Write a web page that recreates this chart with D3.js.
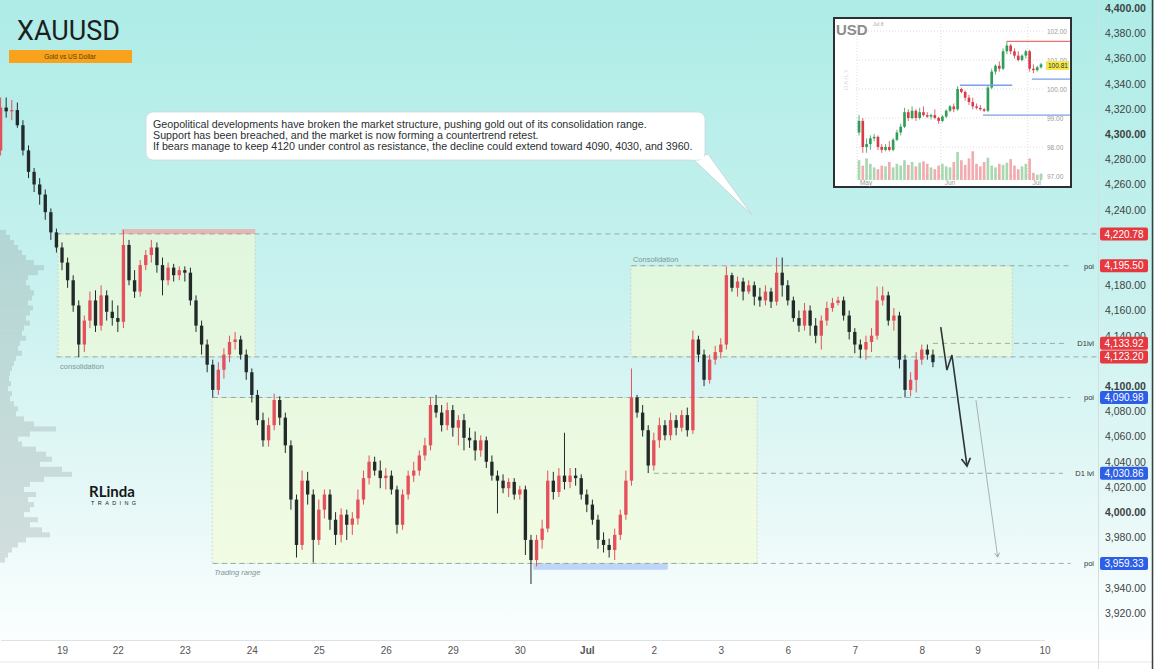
<!DOCTYPE html>
<html>
<head>
<meta charset="utf-8">
<script src="https://cdn.jsdelivr.net/npm/d3@7"></script>
<style>
  html, body { margin: 0; padding: 0; background: #fff; overflow: hidden; }
  svg { display: block; font-family: "Liberation Sans", Arial, sans-serif; }
</style>
</head>
<body>
<div id="chart"></div>
<script>
var width = 1154;
var height = 669;
var plotRight = 1098;
var plotBottom = 640;

// XAUUSD candles, [open, high, low, close]
var candles = [
  [4287,4329,4283,4321],[4321,4329,4313,4318],[4318,4327,4311,4319],[4319,4325,4305,4307],
  [4307,4311,4283,4287],[4287,4291,4265,4270],[4270,4273,4254,4260],[4260,4265,4244,4252],
  [4252,4256,4232,4238],[4238,4241,4216,4222],[4222,4225,4206,4210],[4210,4214,4192,4198],
  [4198,4202,4178,4184],[4184,4188,4159,4164],[4164,4168,4123,4133],[4133,4156,4127,4152],
  [4152,4175,4146,4168],[4168,4176,4143,4148],[4148,4180,4144,4172],[4172,4176,4152,4159],
  [4159,4168,4148,4154],[4154,4164,4143,4151],[4151,4224,4146,4212],[4212,4216,4180,4184],
  [4184,4192,4170,4175],[4175,4200,4171,4196],[4196,4208,4192,4204],[4204,4216,4198,4210],
  [4210,4214,4190,4196],[4196,4202,4172,4184],[4184,4198,4180,4194],[4194,4197,4183,4188],
  [4188,4195,4184,4192],[4192,4195,4183,4190],[4190,4194,4164,4168],[4168,4172,4143,4148],
  [4148,4152,4125,4133],[4133,4137,4111,4117],[4117,4121,4091,4097],[4097,4119,4093,4113],
  [4113,4130,4106,4125],[4125,4140,4119,4135],[4135,4143,4129,4137],[4137,4140,4121,4125],
  [4125,4129,4105,4111],[4111,4114,4087,4093],[4093,4097,4069,4073],[4073,4079,4052,4057],
  [4057,4075,4052,4069],[4069,4094,4065,4089],[4089,4092,4069,4075],[4075,4079,4047,4053],
  [4053,4057,4002,4010],[4010,4014,3964,3974],[3974,4033,3970,4025],[4025,4032,4006,4014],
  [4014,4018,3960,3978],[3978,4010,3974,4002],[4002,4018,3995,4014],[4014,4018,3986,3994],
  [3994,4000,3974,3982],[3982,4003,3976,3998],[3998,4002,3978,3990],[3990,4000,3982,3995],
  [3995,4018,3990,4010],[4010,4033,4006,4027],[4027,4045,4022,4040],[4040,4044,4029,4033],
  [4033,4041,4019,4027],[4027,4035,4018,4029],[4029,4033,4014,4018],[4018,4021,3983,3990],
  [3990,4018,3986,4014],[4014,4033,4010,4029],[4029,4040,4024,4033],[4033,4049,4029,4045],
  [4045,4059,4041,4053],[4053,4091,4049,4085],[4085,4093,4075,4079],[4079,4085,4064,4069],
  [4069,4087,4065,4081],[4081,4085,4060,4067],[4067,4077,4053,4073],[4073,4078,4049,4059],
  [4059,4067,4051,4057],[4057,4064,4041,4049],[4049,4061,4044,4057],[4057,4060,4035,4040],
  [4040,4045,4025,4029],[4029,4033,3999,4025],[4025,4030,4015,4019],[4019,4027,4012,4024],
  [4024,4027,4010,4014],[4014,4021,4010,4018],[4018,4021,3966,3978],[3978,3982,3943,3962],
  [3962,3982,3957,3978],[3978,3994,3971,3987],[3987,4033,3984,4025],[4025,4032,4010,4016],
  [4016,4035,4012,4029],[4029,4063,4018,4024],[4024,4035,4019,4029],[4029,4035,4021,4027],
  [4027,4030,4010,4014],[4014,4018,4000,4006],[4006,4010,3990,3994],[3994,3998,3971,3978],
  [3978,3984,3968,3974],[3974,3979,3964,3970],[3970,3987,3962,3982],[3982,4002,3978,3998],
  [3998,4033,3994,4025],[4025,4114,4021,4091],[4091,4093,4075,4079],[4079,4085,4060,4065],
  [4065,4069,4031,4037],[4037,4063,4033,4057],[4057,4075,4051,4069],[4069,4073,4057,4061],
  [4061,4079,4057,4073],[4073,4077,4061,4067],[4067,4081,4064,4077],[4077,4083,4060,4065],
  [4065,4144,4062,4137],[4137,4140,4119,4125],[4125,4129,4100,4105],[4105,4125,4102,4121],
  [4121,4132,4117,4127],[4127,4138,4122,4133],[4133,4195,4129,4188],[4188,4190,4175,4178],
  [4178,4187,4171,4183],[4183,4186,4168,4175],[4175,4184,4173,4180],[4180,4183,4164,4171],
  [4171,4178,4163,4168],[4168,4180,4164,4175],[4175,4178,4162,4167],[4167,4202,4164,4190],
  [4190,4202,4171,4180],[4180,4184,4164,4168],[4168,4171,4151,4154],[4154,4160,4143,4148],
  [4148,4166,4144,4160],[4160,4164,4140,4148],[4148,4154,4134,4140],[4140,4156,4129,4152],
  [4152,4167,4148,4162],[4162,4170,4159,4166],[4166,4171,4164,4168],[4168,4171,4152,4156],
  [4156,4160,4137,4143],[4143,4146,4126,4133],[4133,4137,4122,4129],[4129,4140,4121,4135],
  [4135,4146,4127,4140],[4140,4179,4137,4168],[4168,4179,4164,4172],[4172,4175,4148,4152],
  [4152,4162,4144,4156],[4156,4159,4114,4121],[4121,4125,4091,4097],[4097,4111,4092,4105],
  [4105,4127,4095,4121],[4121,4133,4117,4129],[4129,4133,4121,4125],[4125,4129,4115,4119]
];

var dayTicks = [
  {i: 11, label: "19"}, {i: 21, label: "22"}, {i: 33, label: "23"}, {i: 45, label: "24"},
  {i: 57, label: "25"}, {i: 69, label: "26"}, {i: 81, label: "29"}, {i: 93, label: "30"},
  {i: 105, label: "Jul"}, {i: 117, label: "2"}, {i: 129, label: "3"}, {i: 141, label: "6"},
  {i: 153, label: "7"}, {i: 165, label: "8"}, {i: 175, label: "9"}, {i: 187, label: "10"}
];

var priceTicks = [3920, 3940, 3960, 3980, 4000, 4020, 4040, 4060, 4080, 4100, 4120, 4140,
  4160, 4180, 4200, 4220, 4240, 4260, 4280, 4300, 4320, 4340, 4360, 4380, 4400];

// horizontal levels: price, first candle index, tag, badge colour
var levels = [
  {p: 4220.78, from: 10, tag: "", kind: "up"},
  {p: 4195.50, from: 113, tag: "poi", kind: "up"},
  {p: 4133.92, from: 167, tag: "D1lvl", kind: "up"},
  {p: 4123.20, from: 10, tag: "", kind: "up"},
  {p: 4090.98, from: 38, tag: "poi", kind: "down"},
  {p: 4030.86, from: 117, tag: "D1 lvl", kind: "down"},
  {p: 3959.33, from: 38, tag: "poi", kind: "down"}
];

var zones = [
  {i0: 10.3, i1: 45.6, top: 4220.78, bottom: 4123.20, label: "consolidation", pos: "below", italic: false},
  {i0: 37.9, i1: 135.5, top: 4090.98, bottom: 3959.33, label: "Trading range", pos: "below", italic: true},
  {i0: 112.9, i1: 181.2, top: 4195.50, bottom: 4123.20, label: "Consolidation", pos: "above", italic: false}
];

var bands = [
  {i0: 21.7, i1: 45.6, top: 4224.6, bottom: 4220.78, color: "#f2a0a0"},
  {i0: 95.4, i1: 119.5, top: 3959.33, bottom: 3954.3, color: "#aac4f5"}
];

// projected path after the last candle
var arrowMain = [{i: 168.4, p: 4146.8}, {i: 169.5, p: 4112.7}, {i: 170.4, p: 4124.6}, {i: 173.1, p: 4036.5}];
var arrowAlt = [{i: 174.7, p: 4088.9}, {i: 178.6, p: 3964.3}];

// volume profile, one value per 4-dollar bucket going down from 4224
var profileTop = 4224;
var profileStep = 4;
var profileVol = [6,10,14,18,22,26,34,44,38,28,26,30,34,32,28,33,30,26,30,24,22,26,20,18,22,16,14,12,
  10,9,11,8,12,10,14,18,16,24,34,56,30,18,22,36,46,52,40,62,72,44,30,24,36,28,34,30,24,38,30,42,50,26,18,12,8,5];

var noteLines = [
  "Geopolitical developments have broken the market structure, pushing gold out of its consolidation range.",
  "Support has been breached, and the market is now forming a countertrend retest.",
  "If bears manage to keep 4120 under control as resistance, the decline could extend toward 4090, 4030, and 3960."
];

// inset: dollar index daily candles [open, high, low, close] and volume
var insetCandles = [
  [98.5,99.1,98.4,98.9],[98.9,99.0,97.8,98.0],[98.0,98.3,97.8,98.1],[98.1,98.4,97.9,98.3],
  [98.3,98.45,98.2,98.35],[98.35,98.4,97.9,98.0],[98.0,98.1,97.8,97.9],[97.9,98.1,97.85,98.0],
  [98.0,98.2,97.85,97.9],[97.9,98.3,97.85,98.25],[98.25,98.6,98.2,98.5],[98.5,98.8,98.4,98.7],
  [98.7,99.35,98.65,99.2],[99.2,99.3,98.9,99.0],[99.0,99.4,98.95,99.25],[99.25,99.3,98.9,99.0],
  [99.0,99.35,98.95,99.2],[99.2,99.4,99.05,99.1],[99.1,99.2,99.0,99.05],[99.05,99.15,98.95,99.1],
  [99.1,99.3,98.95,99.0],[99.0,99.05,98.8,98.9],[98.9,99.1,98.85,99.05],[99.05,99.3,99.0,99.25],
  [99.25,99.45,99.2,99.4],[99.4,99.5,99.2,99.3],[99.3,100.1,99.25,100.0],[100.0,100.05,99.85,99.9],
  [99.9,99.95,99.6,99.7],[99.7,99.8,99.45,99.55],[99.55,99.7,99.3,99.4],[99.4,99.5,99.3,99.35],
  [99.35,99.45,99.25,99.3],[99.3,99.35,99.2,99.25],[99.25,100.1,99.2,100.05],[100.05,100.7,100.0,100.6],
  [100.6,100.85,100.5,100.8],[100.8,100.95,100.6,100.7],[100.7,101.4,100.65,101.3],[101.3,101.65,101.2,101.5],
  [101.5,101.55,101.2,101.3],[101.3,101.4,101.05,101.15],[101.15,101.3,100.95,101.0],[101.0,101.2,100.95,101.15],
  [101.15,101.35,101.05,101.3],[101.3,101.35,100.6,100.7],[100.7,100.85,100.55,100.65],[100.65,100.8,100.6,100.75],
  [100.75,100.9,100.7,100.85]
];
var insetVolume = [55,40,60,45,35,30,40,38,50,35,45,40,55,42,50,38,48,52,45,35,30,40,45,38,35,
  50,78,55,42,60,80,45,38,50,62,40,35,45,42,48,58,40,30,38,45,60,20,15,18];
var insetTicks = [97, 98, 99, 100, 101, 102];
var insetMonths = [{i: -0.5, label: "May"}, {i: 21.6, label: "Jun"}, {i: 44.5, label: "Jul"}];
var insetLines = [
  {p: 101.64, from: 39, to: 56, color: "#f07070"},
  {p: 100.34, from: 45.6, to: 56, color: "#7aa0e8"},
  {p: 100.13, from: 26.6, to: 40.4, color: "#7aa0e8"},
  {p: 99.10, from: 32.7, to: 56, color: "#7aa0e8"}
];
var insetLast = 100.81;

var bullColor = "#e4505b";
var bearColor = "#232a2a";

var svg = d3.select("#chart")
  .append("svg")
  .attr("width", width)
  .attr("height", height);

var defs = svg.append("defs");
var bg = defs.append("linearGradient")
  .attr("id", "bg")
  .attr("x1", 0).attr("y1", 0).attr("x2", 0).attr("y2", 1);
bg.append("stop").attr("offset", "0%").attr("stop-color", "#aeece7");
bg.append("stop").attr("offset", "40%").attr("stop-color", "#c6f1ee");
bg.append("stop").attr("offset", "75%").attr("stop-color", "#e6f8f7");
bg.append("stop").attr("offset", "95%").attr("stop-color", "#fbfefe");

defs.append("clipPath").attr("id", "plotClip")
  .append("rect").attr("x", 0).attr("y", 0).attr("width", plotRight).attr("height", plotBottom);

defs.append("marker")
  .attr("id", "headDark")
  .attr("viewBox", "0 0 10 10")
  .attr("refX", 8).attr("refY", 5)
  .attr("markerWidth", 7).attr("markerHeight", 7)
  .attr("orient", "auto")
  .append("path")
  .attr("d", "M1,1 L8,5 L1,9")
  .attr("fill", "none")
  .attr("stroke", "#2e3535")
  .attr("stroke-width", 1.5);

defs.append("marker")
  .attr("id", "headLight")
  .attr("viewBox", "0 0 10 10")
  .attr("refX", 8).attr("refY", 5)
  .attr("markerWidth", 6).attr("markerHeight", 6)
  .attr("orient", "auto")
  .append("path")
  .attr("d", "M1,1 L8,5 L1,9")
  .attr("fill", "none")
  .attr("stroke", "#9aa5a5")
  .attr("stroke-width", 1.5);

svg.append("rect")
  .attr("width", width).attr("height", height)
  .attr("fill", "url(#bg)");

var x = d3.scaleLinear().domain([0, 187]).range([0.6, 1044.6]);
var y = d3.scaleLinear().domain([3920, 4400]).range([613, 8]);
var step = x(1) - x(0);

var plot = svg.append("g").attr("clip-path", "url(#plotClip)");

// volume profile on the left edge
var profW = d3.scaleLinear().domain([0, 80]).range([0, 80]);
plot.append("g")
  .selectAll("rect")
  .data(profileVol)
  .join("rect")
  .attr("x", 0)
  .attr("y", (d, k) => y(profileTop - profileStep * k))
  .attr("width", d => profW(d))
  .attr("height", (d, k) => y(profileTop - profileStep * (k + 1)) - y(profileTop - profileStep * k))
  .attr("fill", "#8f9c9c")
  .attr("fill-opacity", 0.3);

// zones
plot.append("g")
  .selectAll("rect")
  .data(zones)
  .join("rect")
  .attr("x", d => x(d.i0))
  .attr("y", d => y(d.top))
  .attr("width", d => x(d.i1) - x(d.i0))
  .attr("height", d => y(d.bottom) - y(d.top))
  .attr("fill", "#f4fbd4")
  .attr("fill-opacity", 0.6)
  .attr("stroke", "#c7d3c2")
  .attr("stroke-width", 0.8)
  .attr("stroke-dasharray", "2,2");

plot.append("g")
  .selectAll("text")
  .data(zones)
  .join("text")
  .attr("x", d => x(d.i0) + 2)
  .attr("y", d => d.pos === "below" ? y(d.bottom) + 12 : y(d.top) - 4)
  .text(d => d.label)
  .attr("fill", "#7f9696")
  .style("font-size", "7.5px")
  .style("font-style", d => d.italic ? "italic" : "normal");

plot.append("g")
  .selectAll("rect")
  .data(bands)
  .join("rect")
  .attr("x", d => x(d.i0))
  .attr("y", d => y(d.top))
  .attr("width", d => x(d.i1) - x(d.i0))
  .attr("height", d => y(d.bottom) - y(d.top))
  .attr("fill", d => d.color)
  .attr("fill-opacity", 0.7);

// dashed levels
plot.append("g")
  .selectAll("line")
  .data(levels)
  .join("line")
  .attr("x1", d => x(d.from))
  .attr("x2", d => d.tag ? plotRight - 20 - d.tag.length * 2.5 : plotRight)
  .attr("y1", d => y(d.p))
  .attr("y2", d => y(d.p))
  .attr("stroke", "#889898")
  .attr("stroke-width", 1)
  .attr("stroke-dasharray", "5,4")
  .attr("stroke-opacity", 0.8);

svg.append("g")
  .selectAll("text")
  .data(levels.filter(d => d.tag))
  .join("text")
  .attr("x", plotRight - 4)
  .attr("y", d => y(d.p) + 3)
  .attr("text-anchor", "end")
  .text(d => d.tag)
  .attr("fill", "#333")
  .style("font-size", "7.5px");

// candles
var bars = plot.append("g")
  .selectAll("g")
  .data(candles)
  .join("g");

bars.append("line")
  .attr("x1", (d, i) => x(i))
  .attr("x2", (d, i) => x(i))
  .attr("y1", d => y(d[1]))
  .attr("y2", d => y(d[2]))
  .attr("stroke", d => d[3] >= d[0] ? bullColor : bearColor)
  .attr("stroke-width", 1);

bars.append("rect")
  .attr("x", (d, i) => x(i) - step * 0.3)
  .attr("width", step * 0.6)
  .attr("y", d => y(Math.max(d[0], d[3])))
  .attr("height", d => Math.max(1, Math.abs(y(d[0]) - y(d[3]))))
  .attr("fill", d => d[3] >= d[0] ? bullColor : bearColor);

// projection arrows
var pathGen = d3.line().x(d => x(d.i)).y(d => y(d.p));
plot.append("path")
  .attr("d", pathGen(arrowMain))
  .attr("fill", "none")
  .attr("stroke", "#2e3535")
  .attr("stroke-width", 1.6)
  .attr("marker-end", "url(#headDark)");
plot.append("path")
  .attr("d", pathGen(arrowAlt))
  .attr("fill", "none")
  .attr("stroke", "#a8b2b2")
  .attr("stroke-width", 1)
  .attr("marker-end", "url(#headLight)");

// time axis
svg.append("rect")
  .attr("x", 0).attr("y", plotBottom)
  .attr("width", width).attr("height", height - plotBottom)
  .attr("fill", "#ffffff");

var xAxis = svg.append("g")
  .attr("transform", "translate(0," + plotBottom + ")")
  .call(d3.axisBottom(x)
    .tickValues(dayTicks.map(d => d.i))
    .tickFormat((d, k) => dayTicks[k].label)
    .tickSize(0)
    .tickPadding(7));
xAxis.select(".domain").attr("stroke", "#dde3e3");
xAxis.selectAll("text")
  .attr("fill", "#555")
  .style("font-size", "10px")
  .style("font-family", "Liberation Sans, Arial, sans-serif")
  .style("font-weight", (d, k) => dayTicks[k].label === "Jul" ? "bold" : "normal");

svg.append("line")
  .attr("x1", 0).attr("x2", width)
  .attr("y1", 662).attr("y2", 662)
  .attr("stroke", "#e4eaea");

// price axis
svg.append("line")
  .attr("x1", plotRight + 0.5).attr("x2", plotRight + 0.5)
  .attr("y1", 0).attr("y2", height)
  .attr("stroke", "#d6dede");
svg.append("line")
  .attr("x1", width - 1.5).attr("x2", width - 1.5)
  .attr("y1", 0).attr("y2", height)
  .attr("stroke", "#3a3f40")
  .attr("stroke-width", 1.5);

// ticks sitting right under a level badge are covered by it, so leave them out
var shownTicks = priceTicks.filter(t => levels.every(l => Math.abs(y(t) - y(l.p)) > 6));
var yAxis = svg.append("g")
  .attr("transform", "translate(" + (plotRight + 3) + ",0)")
  .call(d3.axisRight(y)
    .tickValues(shownTicks)
    .tickFormat(d3.format(",.2f"))
    .tickSize(0)
    .tickPadding(4));
yAxis.select(".domain").remove();
yAxis.selectAll("text")
  .attr("fill", "#3d4343")
  .style("font-size", "10.5px")
  .style("font-family", "Liberation Sans, Arial, sans-serif")
  .style("font-weight", d => d % 100 === 0 ? "bold" : "normal");

// level badges
var badges = svg.append("g")
  .selectAll("g")
  .data(levels)
  .join("g")
  .attr("transform", d => "translate(" + (plotRight + 2) + "," + y(d.p) + ")");
badges.append("rect")
  .attr("x", 0).attr("y", -6.5)
  .attr("width", 48).attr("height", 13)
  .attr("rx", 2)
  .attr("fill", d => d.kind === "up" ? "#e5393f" : "#2d5fe6");
badges.append("text")
  .attr("x", 24).attr("y", 3.6)
  .attr("text-anchor", "middle")
  .text(d => d3.format(",.2f")(d.p))
  .attr("fill", "#fff")
  .style("font-size", "10px");

// title block
svg.append("text")
  .attr("x", 17).attr("y", 40)
  .text("XAUUSD")
  .attr("fill", "#1c1f1f")
  .style("font-family", "Roboto, sans-serif")
  .style("font-size", "27px");
svg.append("rect")
  .attr("x", 9).attr("y", 50)
  .attr("width", 123).attr("height", 13)
  .attr("fill", "#f8a31b");
svg.append("text")
  .attr("x", 70).attr("y", 59.2)
  .attr("text-anchor", "middle")
  .text("Gold vs US Dollar")
  .attr("fill", "#5b3b05")
  .style("font-size", "6.5px");

// note bubble
svg.append("polygon")
  .attr("points", "692,158 708,154 752,215")
  .attr("fill", "#ffffff")
  .attr("stroke", "#c4cfcf")
  .attr("stroke-width", 0.8);
svg.append("rect")
  .attr("x", 146).attr("y", 112)
  .attr("width", 559).attr("height", 48)
  .attr("rx", 7)
  .attr("fill", "#ffffff")
  .attr("stroke", "#cdd7d7")
  .attr("stroke-width", 0.8);
svg.append("rect")
  .attr("x", 690).attr("y", 152)
  .attr("width", 14).attr("height", 7.5)
  .attr("fill", "#ffffff");
svg.append("g")
  .selectAll("text")
  .data(noteLines)
  .join("text")
  .attr("x", 153)
  .attr("y", (d, k) => 128 + k * 11)
  .text(d => d)
  .attr("fill", "#2b2f2f")
  .style("font-size", "10.7px");

// logo
svg.append("text")
  .attr("x", 89).attr("y", 497)
  .text("RLinda")
  .attr("fill", "#151818")
  .style("font-family", "Lato, sans-serif")
  .style("font-weight", "bold")
  .style("font-size", "15px");
svg.append("text")
  .attr("x", 91).attr("y", 504.5)
  .text("TRADING")
  .attr("fill", "#151818")
  .style("font-size", "5.5px")
  .style("letter-spacing", "3.4px");

// inset dollar index chart
var ix = d3.scaleLinear().domain([0, 48]).range([859, 1041]);
var iy = d3.scaleLinear().domain([97, 102]).range([176, 31]);
var iv = d3.scaleLinear().domain([0, 100]).range([0, 36]);
var iStep = ix(1) - ix(0);

var inset = svg.append("g");
inset.append("rect")
  .attr("x", 834).attr("y", 18)
  .attr("width", 237).attr("height", 169)
  .attr("fill", "#ffffff")
  .attr("stroke", "#2a3034")
  .attr("stroke-width", 2);

inset.append("g")
  .selectAll("line")
  .data(insetTicks)
  .join("line")
  .attr("x1", 856).attr("x2", 1044)
  .attr("y1", d => iy(d)).attr("y2", d => iy(d))
  .attr("stroke", "#dcdcdc")
  .attr("stroke-dasharray", "1,2");
inset.append("g")
  .selectAll("line")
  .data(insetMonths)
  .join("line")
  .attr("x1", d => ix(d.i)).attr("x2", d => ix(d.i))
  .attr("y1", 24).attr("y2", 180)
  .attr("stroke", "#dcdcdc")
  .attr("stroke-dasharray", "1,2");

inset.append("g")
  .selectAll("rect")
  .data(insetVolume)
  .join("rect")
  .attr("x", (d, i) => ix(i) - iStep * 0.35)
  .attr("width", iStep * 0.7)
  .attr("y", d => 180 - iv(d))
  .attr("height", d => iv(d))
  .attr("fill", (d, i) => insetCandles[i][3] >= insetCandles[i][0] ? "#a9d8b0" : "#f3abb0");

var ibars = inset.append("g")
  .selectAll("g")
  .data(insetCandles)
  .join("g");
ibars.append("line")
  .attr("x1", (d, i) => ix(i)).attr("x2", (d, i) => ix(i))
  .attr("y1", d => iy(d[1])).attr("y2", d => iy(d[2]))
  .attr("stroke", d => d[3] >= d[0] ? "#2e9d55" : "#d83b4a")
  .attr("stroke-width", 0.8);
ibars.append("rect")
  .attr("x", (d, i) => ix(i) - iStep * 0.35)
  .attr("width", iStep * 0.7)
  .attr("y", d => iy(Math.max(d[0], d[3])))
  .attr("height", d => Math.max(1, Math.abs(iy(d[0]) - iy(d[3]))))
  .attr("fill", d => d[3] >= d[0] ? "#2e9d55" : "#d83b4a");

inset.append("g")
  .selectAll("line")
  .data(insetLines)
  .join("line")
  .attr("x1", d => ix(d.from)).attr("x2", d => Math.min(1070, ix(d.to)))
  .attr("y1", d => iy(d.p)).attr("y2", d => iy(d.p))
  .attr("stroke", d => d.color)
  .attr("stroke-width", 1.3);

inset.append("g")
  .selectAll("text")
  .data(insetTicks)
  .join("text")
  .attr("x", 1047)
  .attr("y", d => iy(d) + 2.5)
  .text(d => d3.format(".2f")(d))
  .attr("fill", "#9a9a9a")
  .style("font-size", "6.5px");

inset.append("rect")
  .attr("x", 1046).attr("y", iy(insetLast) - 4.5)
  .attr("width", 23).attr("height", 9)
  .attr("fill", "#f3e84a");
inset.append("text")
  .attr("x", 1048).attr("y", iy(insetLast) + 2.3)
  .text(d3.format(".2f")(insetLast))
  .attr("fill", "#333")
  .style("font-size", "6.5px");

inset.append("g")
  .selectAll("text")
  .data(insetMonths)
  .join("text")
  .attr("x", d => ix(d.i) + 9)
  .attr("y", 185)
  .attr("text-anchor", "middle")
  .text(d => d.label)
  .attr("fill", "#9a9a9a")
  .style("font-size", "6.5px");

inset.append("text")
  .attr("x", 836).attr("y", 35)
  .text("USD")
  .attr("fill", "#8d8d8d")
  .style("font-size", "15px")
  .style("font-weight", "bold");
inset.append("text")
  .attr("x", 873).attr("y", 26)
  .text("Jul 8")
  .attr("fill", "#a8a8a8")
  .style("font-size", "5px");
inset.append("text")
  .attr("transform", "translate(848,90) rotate(-90)")
  .text("DAILY")
  .attr("fill", "#d6d6d6")
  .style("font-size", "6px")
  .style("letter-spacing", "1px");
</script>
</body>
</html>
